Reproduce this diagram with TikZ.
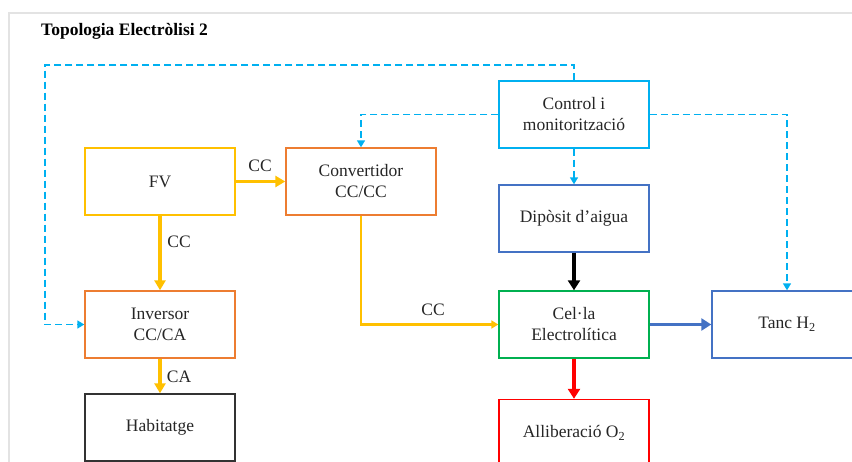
\documentclass[tikz,border=0pt]{standalone}
\usepackage{fontspec}
\setmainfont{Liberation Serif}
\usetikzlibrary{arrows.meta}
\definecolor{cyellow}{HTML}{FFC000}
\definecolor{corange}{HTML}{ED7D31}
\definecolor{ccyan}{HTML}{00B0F0}
\definecolor{cblue}{HTML}{4472C4}
\definecolor{cgreen}{HTML}{00B050}
\definecolor{cred}{HTML}{FF0000}
\definecolor{cframe}{HTML}{E3E3E3}
\tikzset{
  box/.style={draw, line width=1.4pt, minimum width=150pt, minimum height=67pt,
    align=center, inner sep=2pt, font=\fontsize{17.5}{21}\selectfont, text=black!85},
  lbl/.style={font=\fontsize{17.5}{21}\selectfont, text=black!85, inner sep=1pt},
  ctrl/.style={draw=ccyan, line width=1.6pt, dash pattern=on 7pt off 4pt,
    -{Triangle[length=7pt,width=8pt]}},
  power/.style={draw=cyellow, line width=3.4pt, -{Triangle[length=10pt,width=11pt]}},
  flow/.style={line width=3.8pt, -{Triangle[length=10pt,width=12pt]}}
}
\begin{document}
\begin{tikzpicture}[x=1pt,y=-1pt]
\useasboundingbox (0,0) rectangle (852,462);
\clip (0,0) rectangle (852,462);
% panel frame
\draw[cframe, line width=1.6pt] (9,480) -- (9,13) -- (870,13);
\node[anchor=west, font=\fontsize{17.5}{21}\selectfont\bfseries, inner sep=0pt] (title) at (41,31) {Topologia Electròlisi 2};

% blocks
\node[box, draw=cyellow] (fv) at (160,181.5) {FV};
\node[box, draw=corange] (conv) at (361,181.5) {Convertidor\\CC/CC};
\node[box, draw=ccyan] (ctrl) at (574,114.5) {Control i\\monitorització};
\node[box, draw=cblue] (dip) at (574,218.5) {Dipòsit d’aigua};
\node[box, draw=cgreen] (cel) at (574,324.5) {Cel·la\\Electrolítica};
\node[box, draw=cblue] (tanc) at (787,324.5) {Tanc H\textsubscript{2}};
\node[box, draw=cred] (o2) at (574,433) {Alliberació O\textsubscript{2}};
\node[box, draw=corange] (inv) at (160,324.5) {Inversor\\CC/CA};
\node[box, draw=black!80] (hab) at (160,427.5) {Habitatge};

% control signals
\coordinate (c1) at (574,65);
\coordinate (c2) at (45,65);
\coordinate (c3) at (45,324.5);
\draw[ctrl] (ctrl.north) -- (c1) -- (c2) -- (c3) -- (inv.west);
\coordinate (c4) at (361,114.5);
\draw[ctrl] (ctrl.west) -- (c4) -- (conv.north);
\coordinate (c5) at (787,114.5);
\draw[ctrl] (ctrl.east) -- (c5) -- (tanc.north);
\draw[ctrl] (ctrl.south) -- (dip.north);

% electrical power
\draw[power] (fv.east) -- (conv.west);
\node[lbl] (l1) at (260,166) {CC};
\draw[power] (fv.south) -- (inv.north);
\node[lbl] (l2) at (179,242) {CC};
\coordinate (c6) at (361,324.5);
\draw[draw=cyellow, line width=2.3pt, -{Triangle[length=7pt,width=8pt]}] (conv.south) -- (c6) -- (cel.west);
\node[lbl] (l3) at (433,310) {CC};
\draw[power] (inv.south) -- (hab.north);
\node[lbl] (l4) at (179,377) {CA};

% process flows
\draw[flow, draw=black] (dip.south) -- (cel.north);
\draw[flow, draw=cblue] (cel.east) -- (tanc.west);
\draw[flow, draw=cred] (cel.south) -- (o2.north);
\end{tikzpicture}
\end{document}
